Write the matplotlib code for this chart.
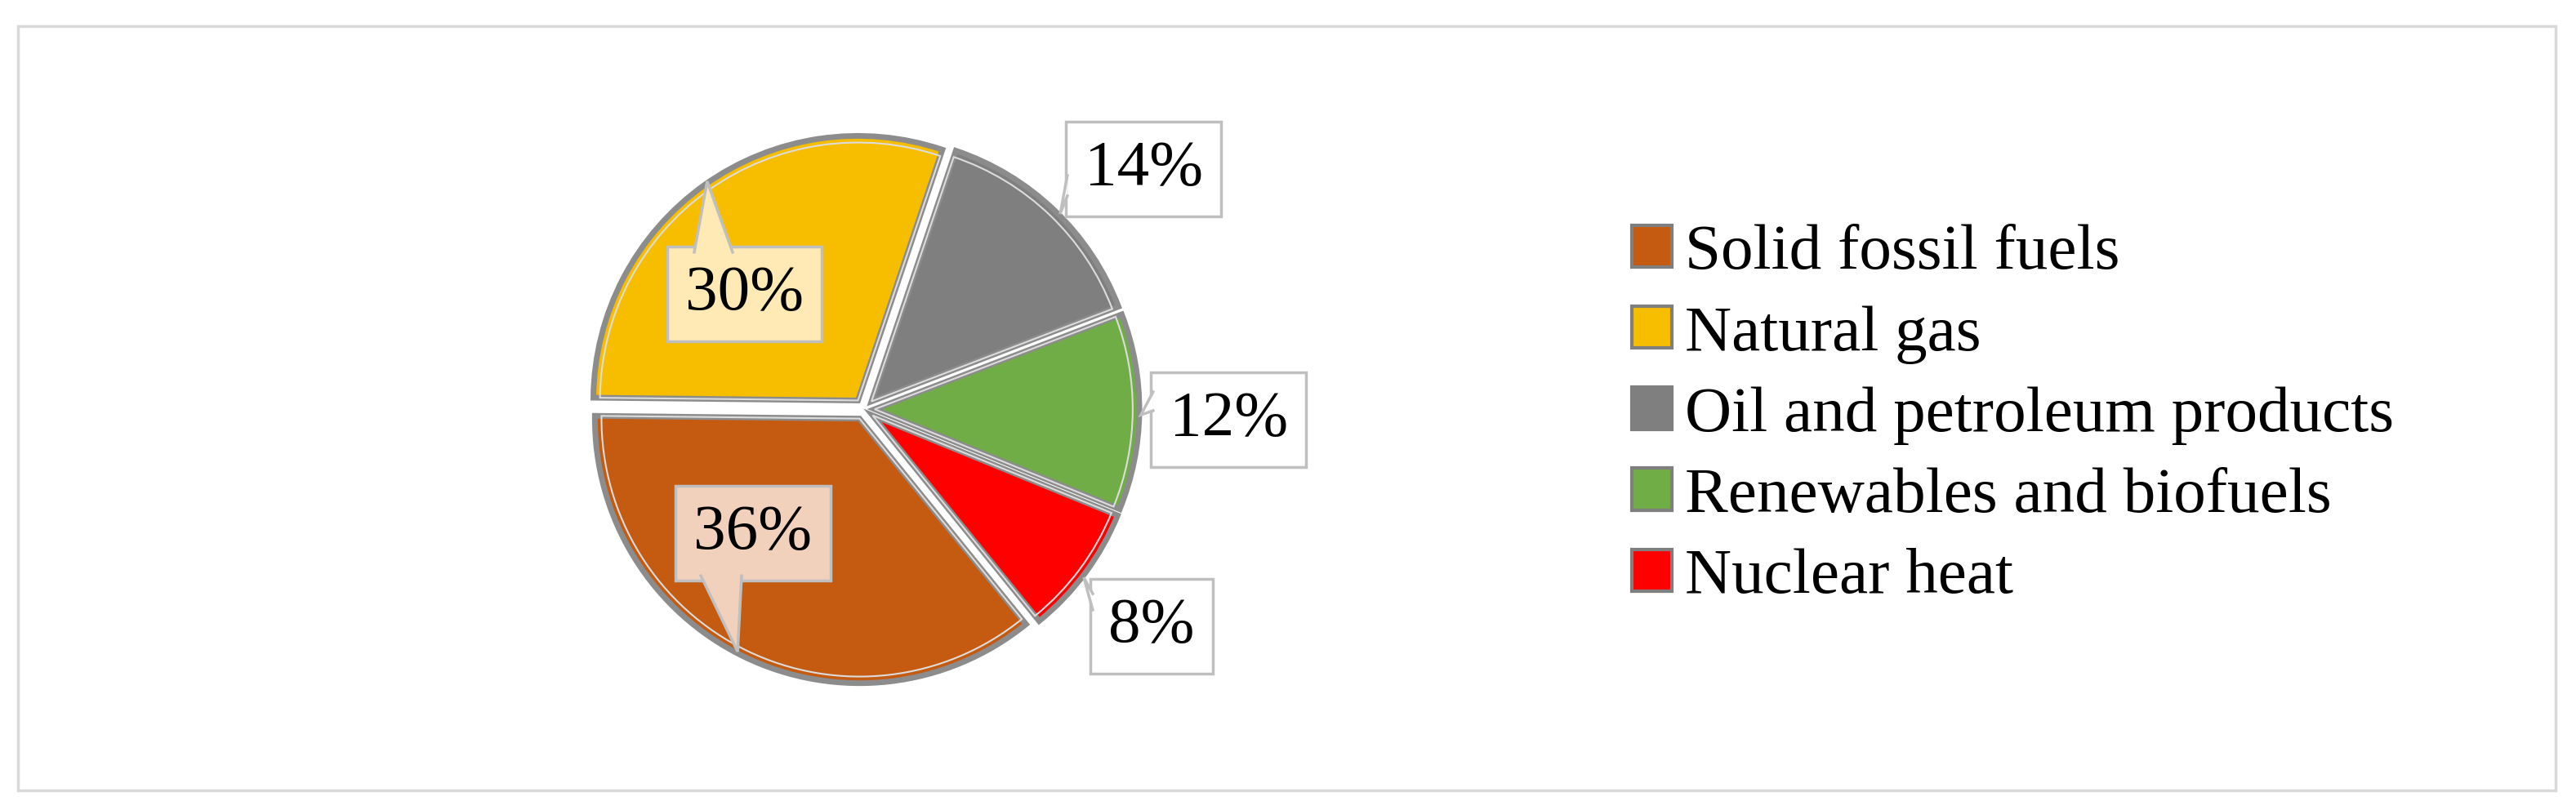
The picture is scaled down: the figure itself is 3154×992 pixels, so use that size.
import numpy as np
import matplotlib
matplotlib.use("Agg")
import matplotlib.pyplot as plt
from matplotlib.patches import Patch, Rectangle, Polygon

plt.rcParams['font.family'] = ['Liberation Serif', 'DejaVu Serif']

# data
categories = ["Solid fossil fuels", "Natural gas", "Oil and petroleum products",
              "Renewables and biofuels", "Nuclear heat"]
shares = [36, 30, 14, 12, 8]
labels = ["36%", "30%", "14%", "12%", "8%"]
colors = ["#C55A11", "#F7BE00", "#7F7F7F", "#70AD47", "#FF0000"]
box_colors = ["#F2D1BC", "#FFE9B4", "white", "white", "white"]
# label box centres, callout bases and tips, in pie-radius units
label_pos = [(-0.42, -0.47), (-0.452, 0.435), (1.056, 0.907), (1.377, -0.04), (1.086, -0.821)]
pointer_base = [((-0.617, -0.63), (-0.463, -0.63)),
                ((-0.642, 0.593), (-0.497, 0.593)),
                ((0.768, 0.883), (0.768, 0.806)),
                ((1.092, 0.065), (1.092, -0.006)),
                ((0.864, -0.698), (0.864, -0.759))]
tip_pos = [(-0.478, -0.917), (-0.593, 0.861), (0.741, 0.738), (1.046, -0.022), (0.83, -0.636)]

W, H = 3154, 992
fig = plt.figure(figsize=(W / 100, H / 100), dpi=100)

# outer frame
fig.add_artist(Rectangle((22 / W, 1 - 968 / H), (3129 - 22) / W, (968 - 32) / H,
                         transform=fig.transFigure, fill=False,
                         ec="#d9d9d9", lw=2.5))

# pie axes: centre at (1058, 501) px, radius 324 px
R = 324
cx, cy = 1058, 501
x0, x1 = -1.5, 1.9
y0, y1 = -1.45, 1.45
ax = fig.add_axes([(cx + x0 * R) / W, 1 - (cy - y0 * R) / H,
                   (x1 - x0) * R / W, (y1 - y0) * R / H])

explode = [0.04] * len(shares)
wedges, _ = ax.pie(shares, colors=colors, startangle=-51, counterclock=False,
                   explode=explode, radius=1.0,
                   wedgeprops=dict(edgecolor="#8c8c8c", linewidth=5))
# light inner bevel line
ax.pie(shares, colors=["none"] * 5, startangle=-51, counterclock=False,
       explode=explode, radius=0.975,
       wedgeprops=dict(edgecolor="#dcdcdc", linewidth=1.5, fill=False))

for lab, (lx, ly), base, (tx, ty), fc in zip(labels, label_pos, pointer_base,
                                              tip_pos, box_colors):
    ax.text(lx, ly, lab, ha="center", va="center", fontsize=57, color="black",
            zorder=4,
            bbox=dict(boxstyle="square,pad=0.28", fc=fc, ec="#bfbfbf", lw=2.5))
    (bx1, by1), (bx2, by2) = base
    # callout pointer, drawn over the box edge so it joins the box
    ax.add_patch(Polygon([(bx1, by1), (tx, ty), (bx2, by2)], closed=True,
                         fc=fc, ec="none", zorder=5))
    ax.plot([bx1, tx, bx2], [by1, ty, by2], color="#bfbfbf", lw=2.5, zorder=6,
            solid_joinstyle="miter")

ax.set_xlim(x0, x1)
ax.set_ylim(y0, y1)
ax.axis("off")

handles = [Patch(facecolor=c, edgecolor="#7f7f7f", linewidth=3) for c in colors]
fig.legend(handles, categories, loc="center left",
           bbox_to_anchor=(1998 / W, 1 - 509 / H), frameon=False,
           fontsize=57, handlelength=0.62, handleheight=0.62,
           handletextpad=0.2, labelspacing=0.35, borderpad=0, borderaxespad=0)

fig.savefig("out.png", dpi=100, facecolor="white")
